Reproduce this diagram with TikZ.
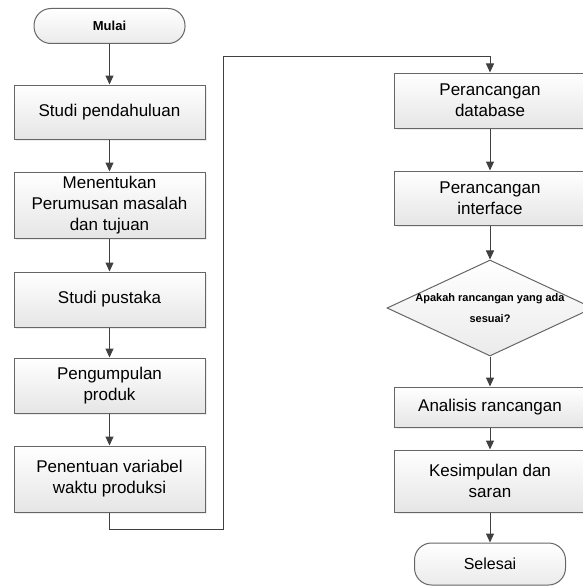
\documentclass[tikz,border=0pt]{standalone}
\usepackage{fontspec}
\setmainfont{Liberation Sans}
\usetikzlibrary{arrows.meta,shapes.geometric,shadows}

\begin{document}
\begin{tikzpicture}[x=1pt,y=-1pt,line width=1pt]
    \tikzstyle{process}=[rectangle,draw=black!60,top color=white,bottom color=black!10,
        drop shadow={shadow xshift=2pt,shadow yshift=-2pt,fill=black!15},
        minimum width=191pt,inner sep=0pt,align=center,font=\fontsize{17}{21}\selectfont]
    \tikzstyle{terminal}=[rectangle,rounded corners=17pt,draw=black!60,top color=white,bottom color=black!8,
        minimum width=151pt,inner sep=0pt,font=\fontsize{16}{20}\selectfont]
    \tikzstyle{decision}=[diamond,draw=black!60,top color=white,bottom color=black!8,
        aspect=2.15,minimum width=206pt,minimum height=96pt,inner sep=-4pt,align=center,
        font=\bfseries\fontsize{11}{21}\selectfont]
    \tikzstyle{arrow}=[draw=black!75,-{Triangle[width=8pt,length=9pt]}]
    \useasboundingbox (0,0) rectangle (583,586);

    \node[terminal,minimum height=35pt,font=\bfseries\fontsize{13}{16}\selectfont] (mulai) at (109.5,26) {Mulai};
    \node[process,minimum height=54pt] (P-1) at (109.5,112) {Studi pendahuluan};
    \node[process,minimum height=66pt] (P-2) at (109.5,205) {Menentukan\\Perumusan masalah\\dan tujuan};
    \node[process,minimum height=55pt] (P-3) at (109.5,299.5) {Studi pustaka};
    \node[process,minimum height=55pt] (P-4) at (109.5,385.5) {Pengumpulan\\produk};
    \node[process,minimum height=66pt] (P-5) at (109.5,479) {Penentuan variabel\\waktu produksi};

    \node[process,minimum height=55pt] (P-6) at (490,100.5) {Perancangan\\database};
    \node[process,minimum height=54pt] (P-7) at (490,198) {Perancangan\\interface};
    \node[decision] (cek) at (490,308) {Apakah rancangan yang ada\\sesuai?};
    \node[process,minimum height=40pt] (P-8) at (490,407) {Analisis rancangan};
    \node[process,minimum height=62pt] (P-9) at (490,481) {Kesimpulan dan\\saran};
    \node[terminal,minimum height=42pt] (selesai) at (490,564) {Selesai};

    \foreach \from/\to in {mulai/P-1, P-1/P-2, P-2/P-3, P-3/P-4, P-4/P-5,
                           P-6/P-7, P-7/cek, cek/P-8, P-8/P-9, P-9/selesai}
        \draw[arrow] (\from) -- (\to);

    \coordinate (turn1) at (223,529);
    \coordinate (turn2) at (490,57);
    \draw[arrow] (P-5.south) |- (turn1) |- (turn2) -- (P-6.north);
\end{tikzpicture}
\end{document}
